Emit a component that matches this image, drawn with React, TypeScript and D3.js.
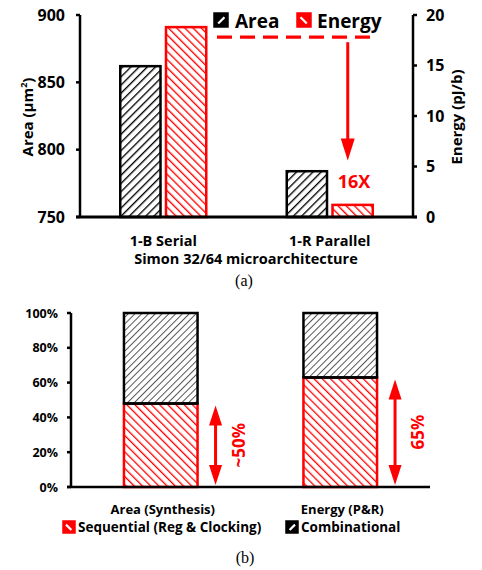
import React from 'react'
import * as d3 from 'd3'

// (a) area / energy of the two microarchitectures
const archs = ['1-B Serial', '1-R Parallel']
const areaVals = [862, 784]
const energyVals = [18.8, 1.2]
const areaTicks = [750, 800, 850, 900]
const energyTicks = [0, 5, 10, 15, 20]

// (b) breakdown into sequential / combinational
const metrics = ['Area (Synthesis)', 'Energy (P&R)']
const seqVals = [48, 63]
const combVals = [52, 37]
const pctTicks = [0, 20, 40, 60, 80, 100]
const pctLabels = ['~50%', '65%']

const RED = '#ff0000'
const FONT = '"Open Sans", "Liberation Sans", sans-serif'

const Hatch = ({ id, color, angle, w, gap }) => (
  <pattern id={id} patternUnits="userSpaceOnUse" width={gap} height={gap}
    patternTransform={`rotate(${angle})`}>
    <rect width={gap} height={gap} fill="#fff" />
    <line x1={0} y1={0} x2={0} y2={gap} stroke={color} strokeWidth={w} />
  </pattern>
)

const Swatch = ({ x, y, s, color, dir }) => (
  <g>
    <rect x={x} y={y} width={s} height={s} fill={color} stroke={color} strokeWidth={1.5} />
    <line x1={x + (dir > 0 ? s * 0.3 : s * 0.25)} y1={y + (dir > 0 ? s * 0.75 : s * 0.3)}
      x2={x + (dir > 0 ? s * 0.75 : s * 0.7)} y2={y + (dir > 0 ? s * 0.3 : s * 0.75)}
      stroke="#fff" strokeWidth={2.2} />
  </g>
)

export default function App() {
  // ---------- top chart ----------
  const yArea = d3.scaleLinear().domain([750, 900]).range([217, 15])
  const yEnergy = d3.scaleLinear().domain([0, 20]).range([217, 15])
  const xGroup = d3.scaleBand().domain(archs).range([80, 413])
  const xSub = d3.scaleBand().domain(['Area', 'Energy']).range([-43, 43]).paddingInner(0.12)

  const dashY = yEnergy(17.8)
  const arrowX = xGroup(archs[1]) + xGroup.bandwidth() / 2 + 18
  const arrowTip = yEnergy(5.6)

  // ---------- bottom chart ----------
  const yPct = d3.scaleLinear().domain([0, 100]).range([487, 313])
  const xM = d3.scaleBand().domain(metrics).range([71, 430]).paddingInner(0.59).paddingOuter(0.295)
  const stackData = metrics.map((m, i) => ({ metric: m, seq: seqVals[i], comb: combVals[i] }))
  const series = d3.stack().keys(['seq', 'comb'])(stackData)

  return (
    <svg width={482} height={570} style={{ position: 'absolute', left: 0, top: 0, background: '#fff' }}
      fontFamily={FONT} fontWeight="bold">
      <defs>
        <Hatch id="hArea" color="#000" angle={45} w={2.7} gap={5.8} />
        <Hatch id="hEnergy" color={RED} angle={-45} w={2.7} gap={5.8} />
        <Hatch id="hComb" color="#555" angle={45} w={2} gap={4.8} />
        <Hatch id="hSeq" color={RED} angle={-45} w={2.6} gap={5.8} />
      </defs>

      {/* ===== (a) ===== */}
      {archs.map((a, i) => {
        const cx = xGroup(a) + xGroup.bandwidth() / 2
        return (
          <g key={a}>
            <rect x={cx + xSub('Area')} y={yArea(areaVals[i])} width={xSub.bandwidth()}
              height={yArea(750) - yArea(areaVals[i])} fill="url(#hArea)" stroke="#000" strokeWidth={2.5} />
            <rect x={cx + xSub('Energy')} y={yEnergy(energyVals[i])} width={xSub.bandwidth()}
              height={yEnergy(0) - yEnergy(energyVals[i])} fill="url(#hEnergy)" stroke={RED} strokeWidth={2.5} />
            <text x={cx} y={246} textAnchor="middle" fontSize={14.5}>{a}</text>
          </g>
        )
      })}
      {/* axes */}
      <line x1={80} x2={80} y1={yArea(900)} y2={yArea(750)} stroke="#000" strokeWidth={2.5} />
      <line x1={413} x2={413} y1={yEnergy(20)} y2={yEnergy(0)} stroke="#000" strokeWidth={2.5} />
      <line x1={76} x2={417} y1={217} y2={217} stroke="#000" strokeWidth={3} />
      {areaTicks.map(t => (
        <g key={t}>
          <line x1={76} x2={80} y1={yArea(t)} y2={yArea(t)} stroke="#000" strokeWidth={2.5} />
          <text x={65} y={yArea(t) + 5.5} textAnchor="end" fontSize={16}>{t}</text>
        </g>
      ))}
      {energyTicks.map(t => (
        <g key={t}>
          <line x1={413} x2={417} y1={yEnergy(t)} y2={yEnergy(t)} stroke="#000" strokeWidth={2.5} />
          <text x={426} y={yEnergy(t) + 5.5} textAnchor="start" fontSize={16}>{t}</text>
        </g>
      ))}
      <text transform="translate(33,117) rotate(-90)" textAnchor="middle" fontSize={15}>
        Area (μm<tspan baselineShift="super" fontSize={9}>2</tspan>)
      </text>
      <text transform="translate(462,117) rotate(-90)" textAnchor="middle" fontSize={15}>Energy (pJ/b)</text>
      <text x={246} y={264} textAnchor="middle" fontSize={14.5}>Simon 32/64 microarchitecture</text>

      {/* legend */}
      <Swatch x={214} y={13} s={14} color="#000" dir={1} />
      <text x={235} y={27.5} fontSize={19}>Area</text>
      <Swatch x={297} y={13} s={14} color={RED} dir={-1} />
      <text x={317} y={27.5} fontSize={19}>Energy</text>

      {/* 16X annotation */}
      <line x1={217} x2={377} y1={dashY} y2={dashY} stroke={RED} strokeWidth={3.2} strokeDasharray="15 8" />
      <line x1={arrowX} x2={arrowX} y1={dashY + 5} y2={arrowTip - 18} stroke={RED} strokeWidth={3} />
      <path d={`M${arrowX - 7},${arrowTip - 22} L${arrowX + 7},${arrowTip - 22} L${arrowX},${arrowTip} Z`} fill={RED} />
      <text x={354} y={188} textAnchor="middle" fontSize={18} fill={RED}>16X</text>

      <text x={244} y={286} textAnchor="middle" fontSize={16} fontFamily='"Liberation Serif", serif' fontWeight="normal">(a)</text>

      {/* ===== (b) ===== */}
      {series.map(s => s.map(d => (
        <rect key={s.key + d.data.metric} x={xM(d.data.metric)} y={yPct(d[1])} width={xM.bandwidth()}
          height={yPct(d[0]) - yPct(d[1])} fill={s.key === 'seq' ? 'url(#hSeq)' : 'url(#hComb)'}
          stroke={s.key === 'seq' ? RED : '#000'} strokeWidth={2.5} />
      )))}
      {/* redraw comb bottom edge on top */}
      {series[1].map(d => (
        <line key={'e' + d.data.metric} x1={xM(d.data.metric)} x2={xM(d.data.metric) + xM.bandwidth()}
          y1={yPct(d[0])} y2={yPct(d[0])} stroke="#000" strokeWidth={2.5} />
      ))}
      <line x1={71} x2={71} y1={yPct(100)} y2={yPct(0)} stroke="#000" strokeWidth={2.5} />
      <line x1={67} x2={430} y1={yPct(0)} y2={yPct(0)} stroke="#000" strokeWidth={2.5} />
      {pctTicks.map(t => (
        <g key={t}>
          <line x1={67} x2={71} y1={yPct(t)} y2={yPct(t)} stroke="#000" strokeWidth={2.5} />
          <text x={58} y={yPct(t) + 4.5} textAnchor="end" fontSize={12.5}>{t}%</text>
        </g>
      ))}
      {metrics.map((m, i) => {
        const cx = xM(m) + xM.bandwidth() / 2
        const ax = xM(m) + xM.bandwidth() + 18
        const top = yPct(seqVals[i]) + 2
        const bot = yPct(0) - 2
        return (
          <g key={m}>
            <text x={cx + 2} y={514} textAnchor="middle" fontSize={13}>{m}</text>
            <line x1={ax} x2={ax} y1={top + 18} y2={bot - 18} stroke={RED} strokeWidth={3} />
            <path d={`M${ax},${top} L${ax - 6.5},${top + 20} L${ax + 6.5},${top + 20} Z`} fill={RED} />
            <path d={`M${ax},${bot} L${ax - 6.5},${bot - 20} L${ax + 6.5},${bot - 20} Z`} fill={RED} />
            <text transform={`translate(${ax + 29},${(top + bot) / 2}) rotate(-90)`} textAnchor="middle"
              fontSize={17} fill={RED}>{pctLabels[i]}</text>
          </g>
        )
      })}
      {/* legend */}
      <Swatch x={63} y={521} s={12} color={RED} dir={-1} />
      <text x={78} y={532} fontSize={13.5}>Sequential (Reg &amp; Clocking)</text>
      <Swatch x={286} y={521} s={12} color="#000" dir={1} />
      <text x={301} y={532} fontSize={13.5}>Combinational</text>

      <text x={245} y={563} textAnchor="middle" fontSize={16} fontFamily='"Liberation Serif", serif' fontWeight="normal">(b)</text>
    </svg>
  )
}
